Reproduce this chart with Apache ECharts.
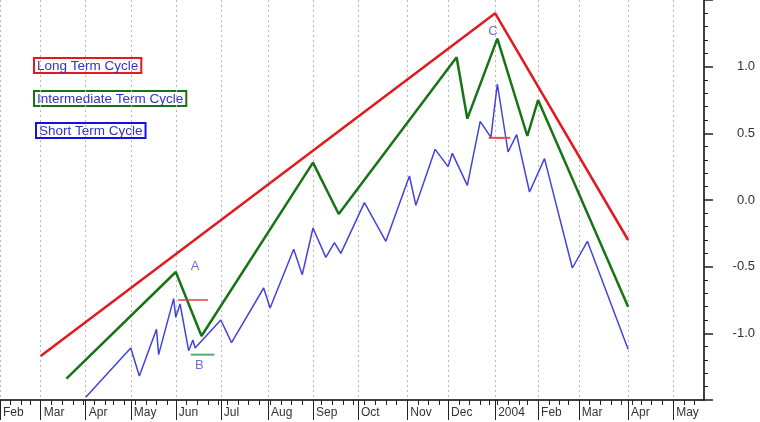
<!DOCTYPE html>
<html>
<head>
<meta charset="utf-8">
<script src="https://cdn.jsdelivr.net/npm/echarts@6/dist/echarts.min.js"></script>
<style>
html,body{margin:0;padding:0;background:#fff;}
#c{width:760px;height:422px;}
</style>
</head>
<body>
<div id="c"></div>
<script>
// ---- data (x axis counts trading days) ----
var longTerm = [
  ['2003-03-03', -1.17], ['2004-01-02', 1.40], ['2004-04-01', -0.30]
];
var intermediateTerm = [
  ['2003-03-19', -1.34], ['2003-06-02', -0.54], ['2003-06-18', -1.02],
  ['2003-09-02', 0.28], ['2003-09-18', -0.105], ['2003-12-05', 1.07],
  ['2003-12-12', 0.61], ['2004-01-05', 1.21], ['2004-01-26', 0.48],
  ['2004-02-02', 0.75], ['2004-04-01', -0.80]
];
var shortTerm = [
  ['2003-04-01', -1.48], ['2003-05-01', -1.11], ['2003-05-07', -1.32],
  ['2003-05-19', -0.97], ['2003-05-20', -1.16], ['2003-05-30', -0.74],
  ['2003-06-02', -0.88], ['2003-06-04', -0.78], ['2003-06-10', -1.13],
  ['2003-06-12', -1.05], ['2003-06-13', -1.11], ['2003-07-01', -0.90],
  ['2003-07-09', -1.07], ['2003-07-30', -0.66], ['2003-08-04', -0.81],
  ['2003-08-19', -0.37], ['2003-08-25', -0.56], ['2003-09-02', -0.21],
  ['2003-09-10', -0.43], ['2003-09-16', -0.32], ['2003-09-19', -0.40],
  ['2003-10-06', -0.02], ['2003-10-20', -0.31], ['2003-11-04', 0.18],
  ['2003-11-07', -0.04], ['2003-11-20', 0.38], ['2003-12-01', 0.25],
  ['2003-12-03', 0.35], ['2003-12-12', 0.11], ['2003-12-22', 0.59],
  ['2003-12-30', 0.47], ['2004-01-05', 0.87], ['2004-01-12', 0.36],
  ['2004-01-16', 0.49], ['2004-01-27', 0.06], ['2004-02-05', 0.31],
  ['2004-02-25', -0.51], ['2004-03-05', -0.31], ['2004-04-01', -1.12]
];
var levelA = [['2003-06-03', -0.75], ['2003-06-23', -0.75]];
var levelB = [['2003-06-11', -1.16], ['2003-06-26', -1.16]];
var levelC = [['2003-12-29', 0.466], ['2004-01-13', 0.466]];
var pointLabels = [
  ['2003-06-13', -0.50, 'A'], ['2003-06-17', -1.24, 'B'], ['2003-12-31', 1.265, 'C']
];
var legendNames = ['Long Term Cycle', 'Intermediate Term Cycle', 'Short Term Cycle'];
var monthTickDates = ['2003-02-01','2003-03-01','2003-04-01','2003-05-01','2003-06-01','2003-07-01',
  '2003-08-01','2003-09-01','2003-10-01','2003-11-01','2003-12-01','2004-01-01','2004-02-01',
  '2004-03-01','2004-04-01','2004-05-01'];
var monthTickLabels = ['Feb','Mar','Apr','May','Jun','Jul','Aug','Sep','Oct','Nov','Dec','2004','Feb','Mar','Apr','May'];
var yTickLabels = ['1.0','0.5','0.0','-0.5','-1.0'];
var marketHolidays = ['2003-02-17','2003-04-18','2003-05-26','2003-07-04','2003-09-01','2003-11-27',
  '2003-12-25','2004-01-01','2004-01-19','2004-02-16','2004-04-09','2004-05-31'];

// ---- trading-day scale ----
var DAY = 86400000;
var utc = function (s) { var p = s.split('-'); return Date.UTC(+p[0], +p[1] - 1, +p[2]); };
var ORIGIN = utc('2003-02-03');
var holidaySet = {};
marketHolidays.forEach(function (h) { holidaySet[utc(h)] = true; });
function tradingIndex(s) {
  var end = utc(s), n = 0;
  for (var t = ORIGIN; t < end; t += DAY) {
    var wd = new Date(t).getUTCDay();
    if (wd !== 0 && wd !== 6 && !holidaySet[t]) n++;
  }
  return n;
}
var toXY = function (arr) { return arr.map(function (p) { return [tradingIndex(p[0]), p[1]]; }); };
var monthVals = monthTickDates.map(tradingIndex);
var labelByVal = {};
monthVals.forEach(function (v, i) { labelByVal[v] = monthTickLabels[i]; });
var xMin = 0, xMax = 328.4;
var weekVals = [];
for (var t = ORIGIN; ; t += 7 * DAY) {
  var d = new Date(t);
  var s = d.getUTCFullYear() + '-' + (d.getUTCMonth() + 1) + '-' + d.getUTCDate();
  var idx = tradingIndex(s);
  if (idx > xMax) break;
  weekVals.push(idx);
}

var RED = '#e21a1f', GREEN = '#167416', BLUE = '#4343dc', TXT = '#3232c4';
var FONT = '"Liberation Sans", Arial, sans-serif';

var chart = echarts.init(document.getElementById('c'), null, {renderer: 'canvas'});
chart.setOption({
  animation: false,
  backgroundColor: '#ffffff',
  grid: {left: -4, right: 56, top: 0, bottom: 22},
  xAxis: [{
    type: 'value', min: xMin, max: xMax, position: 'bottom',
    axisLine: {show: true, onZero: false, lineStyle: {color: '#000', width: 1.5}},
    axisTick: {show: true, length: 20, customValues: monthVals, lineStyle: {color: '#222', width: 1}},
    axisLabel: {
      show: true, customValues: monthVals, align: 'left', margin: 7, padding: [0, 0, 0, 3],
      color: '#333', fontSize: 12, fontFamily: FONT,
      formatter: function (v) { return labelByVal[v] || ''; }
    },
    splitLine: {show: true, lineStyle: {color: '#b8b8b8', type: [2, 3], width: 1}}
  }, {
    type: 'value', min: xMin, max: xMax, position: 'bottom',
    axisLine: {show: false, onZero: false},
    axisTick: {show: true, length: 5, customValues: weekVals, lineStyle: {color: '#222', width: 1}},
    axisLabel: {show: false},
    splitLine: {show: false}
  }],
  yAxis: {
    type: 'value', position: 'right', min: -1.5, max: 1.5, interval: 0.5,
    axisLine: {show: true, onZero: false, lineStyle: {color: '#000', width: 1.5}},
    axisTick: {show: true, length: 9, lineStyle: {color: '#222', width: 1.5}},
    minorTick: {show: true, splitNumber: 5, length: 4, lineStyle: {color: '#222', width: 1}},
    axisLabel: {
      align: 'right', margin: 51, color: '#333', fontSize: 13, fontFamily: FONT,
      formatter: function (v) {
        var s = v.toFixed(1);
        return yTickLabels.indexOf(s) >= 0 ? s : '';
      }
    },
    splitLine: {show: false}
  },
  graphic: [
    {type: 'text', left: 33, top: 57, style: {text: legendNames[0], fill: TXT,
      font: '13.5px ' + FONT, borderColor: RED, borderWidth: 2, padding: [1, 3, 0, 3]}},
    {type: 'text', left: 33, top: 90, style: {text: legendNames[1], fill: TXT,
      font: '13.5px ' + FONT, borderColor: GREEN, borderWidth: 2, padding: [1, 3, 0, 3]}},
    {type: 'text', left: 35, top: 122, style: {text: legendNames[2], fill: TXT,
      font: '13.5px ' + FONT, borderColor: '#1010e8', borderWidth: 2, padding: [1, 3, 0, 3]}}
  ],
  series: [
    {name: legendNames[0], type: 'line', data: toXY(longTerm), symbol: 'none',
      lineStyle: {color: RED, width: 2.5}, z: 3},
    {name: legendNames[1], type: 'line', data: toXY(intermediateTerm), symbol: 'none',
      lineStyle: {color: GREEN, width: 2.5}, z: 4},
    {name: legendNames[2], type: 'line', data: toXY(shortTerm), symbol: 'none',
      lineStyle: {color: BLUE, width: 1.5}, z: 5},
    {type: 'line', data: toXY(levelA), symbol: 'none', lineStyle: {color: '#e04040', width: 1.5}, z: 6},
    {type: 'line', data: toXY(levelB), symbol: 'none', lineStyle: {color: '#4fae6a', width: 2}, z: 6},
    {type: 'line', data: toXY(levelC), symbol: 'none', lineStyle: {color: '#e84848', width: 2}, z: 6},
    {type: 'scatter', symbolSize: 0, z: 7,
      data: pointLabels.map(function (p) { return {value: [tradingIndex(p[0]), p[1]], name: p[2]}; }),
      label: {show: true, position: 'inside', formatter: '{b}', color: '#4a4ad0', fontSize: 13,
        fontFamily: FONT}}
  ]
});
</script>
</body>
</html>
